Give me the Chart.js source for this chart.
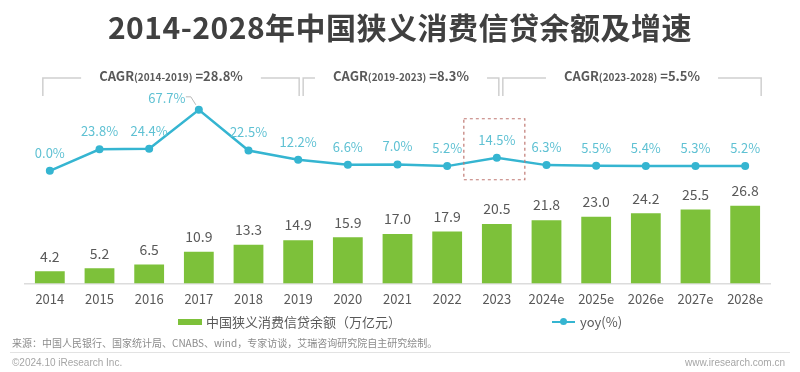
<!DOCTYPE html>
<html>
<head>
<meta charset="utf-8">
<script src="https://cdn.jsdelivr.net/npm/chart.js@4.4.1/dist/chart.umd.min.js"></script>
<style>
  html, body { margin:0; padding:0; background:#fff; }
  #wrap { position:relative; width:800px; height:372px; overflow:hidden; font-family:"Noto Sans CJK SC","Open Sans",sans-serif; }
  #chart { position:absolute; left:0; top:0; }
  .title { position:absolute; left:0; width:800px; top:6px; text-align:center; font-size:30px; font-weight:700; color:#404040; line-height:40px; letter-spacing:0.5px; }
  .legend { position:absolute; top:313px; font-size:13px; color:#595959; line-height:18px; display:flex; align-items:center; }
  .swatch { display:inline-block; width:24px; height:6px; background:#7dc13a; margin-right:4px; }
  .lineswatch { position:relative; display:inline-block; width:23px; height:2px; background:#35b5d1; margin-right:5px; }
  .lineswatch i { position:absolute; left:8px; top:-3px; width:7px; height:7px; border-radius:50%; background:#35b5d1; }
  .src { position:absolute; left:12px; top:336px; font-size:10px; color:#8c8c8c; line-height:14px; }
  .rule { position:absolute; left:10px; right:10px; top:352px; height:1px; background:#e3e3e3; }
  .foot { position:absolute; top:356px; font-size:10px; color:#a6a6a6; line-height:14px; font-family:"Liberation Sans",Arial,sans-serif; }
</style>
</head>
<body>
<div id="wrap">
  <canvas id="chart" width="800" height="372"></canvas>
  <div class="title">2014-2028年中国狭义消费信贷余额及增速</div>
  <div class="legend" style="left:178px"><span class="swatch"></span>中国狭义消费信贷余额（万亿元）</div>
  <div class="legend" style="left:552px"><span class="lineswatch"><i></i></span>yoy(%)</div>
  <div class="src">来源：中国人民银行、国家统计局、CNABS、wind，专家访谈，艾瑞咨询研究院自主研究绘制。</div>
  <div class="rule"></div>
  <div class="foot" style="left:12px">©2024.10 iResearch Inc.</div>
  <div class="foot" style="right:15px">www.iresearch.com.cn</div>
</div>
<script>
// --- Data ---
const years = ['2014','2015','2016','2017','2018','2019','2020','2021','2022','2023','2024e','2025e','2026e','2027e','2028e'];
const balance = [4.2, 5.2, 6.5, 10.9, 13.3, 14.9, 15.9, 17.0, 17.9, 20.5, 21.8, 23.0, 24.2, 25.5, 26.8];
const yoy = [0.0, 23.8, 24.4, 67.7, 22.5, 12.2, 6.6, 7.0, 5.2, 14.5, 6.3, 5.5, 5.4, 5.3, 5.2];
const cagrRanges = ['2014-2019', '2019-2023', '2023-2028'];
const cagrValues = [28.8, 8.3, 5.5];
const cagrSpans = [[0, 5], [5, 9], [9, 14]];   // category index from / to
const highlightIndex = 9;                     // 2023 is boxed

const GREEN = '#7dc13a', BLUE = '#35b5d1', LBLUE = '#5fc1d3', GRAY = '#595959';
const FONT = '"Noto Sans CJK SC","Open Sans",sans-serif';

// --- Value labels for bars and line points ---
const valueLabels = {
  id: 'valueLabels',
  afterDatasetsDraw(chart){
    const ctx = chart.ctx;
    ctx.save();
    ctx.textAlign = 'center';
    ctx.textBaseline = 'middle';
    chart.getDatasetMeta(0).data.forEach((bar, i) => {
      ctx.fillStyle = GRAY;
      ctx.font = '14px ' + FONT;
      ctx.fillText(balance[i].toFixed(1), bar.x, bar.y - 15);
    });
    chart.getDatasetMeta(1).data.forEach((pt, i) => {
      ctx.fillStyle = LBLUE;
      ctx.font = '13px ' + FONT;
      const txt = yoy[i].toFixed(1) + '%';
      if (i === 3) {
        // peak label is pushed to the left with a small leader
        ctx.fillText(txt, pt.x - 32, pt.y - 12);
        ctx.strokeStyle = '#b9b9b9';
        ctx.lineWidth = 1;
        ctx.beginPath();
        ctx.moveTo(pt.x - 13, pt.y - 13);
        ctx.lineTo(pt.x - 8, pt.y - 13);
        ctx.lineTo(pt.x - 3, pt.y - 5);
        ctx.stroke();
      } else {
        ctx.fillText(txt, pt.x, pt.y - 18);
      }
    });
    ctx.restore();
  }
};

// --- CAGR brackets and dashed highlight box ---
const cagrBrackets = {
  id: 'cagrBrackets',
  afterDraw(chart){
    const ctx = chart.ctx, x = chart.scales.x;
    const padL = [-7, 5, 6], padR = [1, 2, 16];
    const yTop = 78, yBot = 96, yText = 76;
    ctx.save();
    cagrSpans.forEach(([a, b], k) => {
      const l = x.getPixelForValue(a) + padL[k];
      const r = x.getPixelForValue(b) + padR[k];
      const mid = (l + r) / 2;
      // measure the 3-part label
      const p1 = 'CAGR', p2 = '(' + cagrRanges[k] + ')', p3 = ' =' + cagrValues[k] + '%';
      const f1 = 'bold 13px ' + FONT, f2 = 'bold 10px ' + FONT;
      ctx.font = f1; const w1 = ctx.measureText(p1).width, w3 = ctx.measureText(p3).width;
      ctx.font = f2; const w2 = ctx.measureText(p2).width;
      const w = w1 + w2 + w3;
      let tx = mid - w / 2;
      ctx.fillStyle = GRAY;
      ctx.textBaseline = 'middle';
      ctx.textAlign = 'left';
      ctx.font = f1; ctx.fillText(p1, tx, yText); tx += w1;
      ctx.font = f2; ctx.fillText(p2, tx, yText + 1); tx += w2;
      ctx.font = f1; ctx.fillText(p3, tx, yText);
      const gap = 18;
      ctx.strokeStyle = '#cfcfcf';
      ctx.lineWidth = 1.5;
      ctx.beginPath();
      ctx.moveTo(l, yBot); ctx.lineTo(l, yTop); ctx.lineTo(mid - w / 2 - gap, yTop);
      ctx.moveTo(mid + w / 2 + gap, yTop); ctx.lineTo(r, yTop); ctx.lineTo(r, yBot);
      ctx.stroke();
    });
    // dashed box round the highlighted point
    const pt = chart.getDatasetMeta(1).data[highlightIndex];
    ctx.strokeStyle = '#c07a74';
    ctx.lineWidth = 1.2;
    ctx.setLineDash([3, 3]);
    ctx.strokeRect(pt.x - 33, pt.y - 39, 61, 61);
    ctx.restore();
  }
};

new Chart(document.getElementById('chart'), {
  data: {
    labels: years,
    datasets: [
      { type:'bar', label:'中国狭义消费信贷余额（万亿元）', data: balance, backgroundColor: GREEN,
        yAxisID:'y', categoryPercentage:0.8, barPercentage:0.75, order:2 },
      { type:'line', label:'yoy(%)', data: yoy, borderColor: BLUE, backgroundColor: BLUE,
        borderWidth:2.5, pointRadius:4, pointBackgroundColor: BLUE, pointBorderWidth:0,
        tension:0, yAxisID:'y1', order:1 }
    ]
  },
  options: {
    responsive:false,
    animation:false,
    layout:{ padding:{ left:25, right:30, top:60, bottom:57 } },
    plugins:{ legend:{ display:false }, tooltip:{ enabled:false } },
    scales:{
      x:{ grid:{ display:false, drawTicks:false }, border:{ color:'#dcdcdc', width:1.5 },
          ticks:{ color:GRAY, font:{ size:13, family:FONT }, padding:8, maxRotation:0, autoSkip:false } },
      y:{ display:false, min:0, max:77 },
      y1:{ display:false, min:-125, max:123 }
    }
  },
  plugins:[valueLabels, cagrBrackets]
});
</script>
</body>
</html>
